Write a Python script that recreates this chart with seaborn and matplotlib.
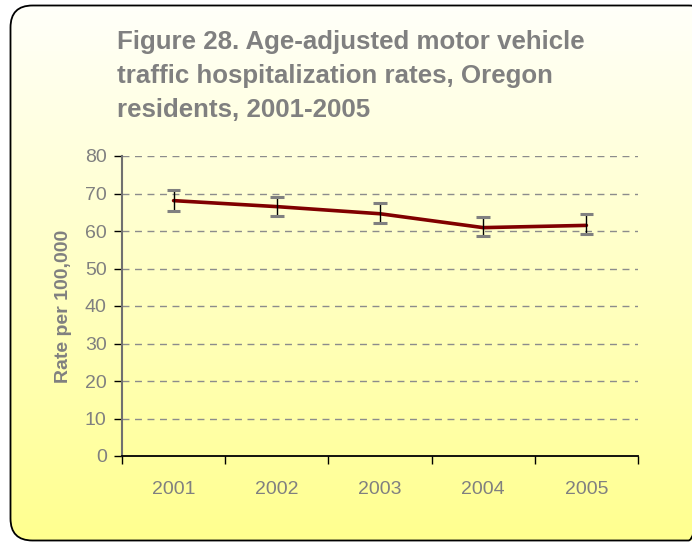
import numpy as np
import pandas as pd
import matplotlib
matplotlib.use("Agg")
import matplotlib.pyplot as plt
from matplotlib.patches import FancyBboxPatch
import seaborn as sns

years = ["2001", "2002", "2003", "2004", "2005"]
rates = [68.1, 66.5, 64.6, 60.9, 61.5]
ci_low = [65.3, 64.0, 62.1, 58.8, 59.1]
ci_high = [70.9, 69.2, 67.4, 63.7, 64.4]
yticks = [0, 10, 20, 30, 40, 50, 60, 70, 80]
title_lines = ["Figure 28. Age-adjusted motor vehicle",
               "traffic hospitalization rates, Oregon",
               "residents, 2001-2005"]
ylabel = "Rate per 100,000"

sns.set_theme(style="white")
plt.rcParams['font.family'] = ['Liberation Sans', 'DejaVu Sans']

W, H = 692, 542
fig = plt.figure(figsize=(W / 100, H / 100), dpi=100)
fig.patch.set_facecolor("white")

# background gradient
bg = fig.add_axes([0, 0, 1, 1], zorder=-10)
bg.set_xlim(0, W)
bg.set_ylim(H, 0)
bg.axis("off")
top = np.array([1.0, 1.0, 0.98])
bot = np.array([1.0, 1.0, 0.56])
t = np.linspace(0, 1, 256)[:, None]
grad = top[None, :] * (1 - t) + bot[None, :] * t
grad = np.repeat(grad[:, None, :], 2, axis=1)
box = FancyBboxPatch((10.5, 5.5), 700, 535, boxstyle="round,pad=0,rounding_size=22",
                     facecolor="none", edgecolor="black", linewidth=1.3)
bg.add_patch(box)
im = bg.imshow(grad, extent=[10, 710, 541, 5], aspect="auto", zorder=0)
im.set_clip_path(box)

for i, line in enumerate(title_lines):
    bg.text(117, 42 + 34 * i, line, fontsize=18.6, fontweight="bold",
            color="#808080", va="center", ha="left")

ax = fig.add_axes([122 / W, (H - 456) / H, 516 / W, 300 / H])
ax.patch.set_alpha(0)

df = pd.DataFrame({"year": years, "rate": rates})
sns.lineplot(data=df, x="year", y="rate", ax=ax, color="#800000", linewidth=2.6, zorder=3)

xpos = np.arange(len(years))
r = np.array(rates)
ax.errorbar(xpos, r, yerr=[r - np.array(ci_low), np.array(ci_high) - r], fmt="none",
            ecolor="black", elinewidth=1.0, capsize=0, zorder=4)
for cl, ch, x in zip(ci_low, ci_high, xpos):
    ax.plot([x - 0.065, x + 0.065], [cl, cl], color="#808080", lw=2.2, zorder=4, solid_capstyle="butt")
    ax.plot([x - 0.065, x + 0.065], [ch, ch], color="#808080", lw=2.2, zorder=4, solid_capstyle="butt")

ax.set_xlim(-0.5, len(years) - 0.5)
ax.set_ylim(0, 80)
ax.set_yticks(yticks)
ax.set_yticklabels([str(v) for v in yticks], fontsize=14, color="#808080")
ax.set_xticks(np.arange(-0.5, len(years), 1.0))
ax.set_xticklabels([])
ax.set_xticks(xpos, minor=True)
ax.set_xticklabels(years, minor=True, fontsize=14, color="#808080")
ax.tick_params(axis="x", which="major", length=6, width=1, color="black", direction="out", bottom=True)
ax.tick_params(axis="x", which="minor", length=0, pad=18)
ax.tick_params(axis="y", length=6, width=1, color="black", direction="out", left=True, pad=5)

for v in yticks[1:]:
    ax.axhline(v, color="#8c8c8c", lw=1.0, ls=(0, (5, 4)), zorder=1)

for s in ["top", "right"]:
    ax.spines[s].set_visible(False)
ax.spines["left"].set_color("#707070")
ax.spines["left"].set_linewidth(1.5)
ax.spines["bottom"].set_color("black")
ax.spines["bottom"].set_linewidth(1.3)

ax.set_xlabel("")
ax.set_ylabel(ylabel, fontsize=14, fontweight="bold", color="#808080", labelpad=9)
ax.grid(False)

fig.savefig("out.png", dpi=100)
